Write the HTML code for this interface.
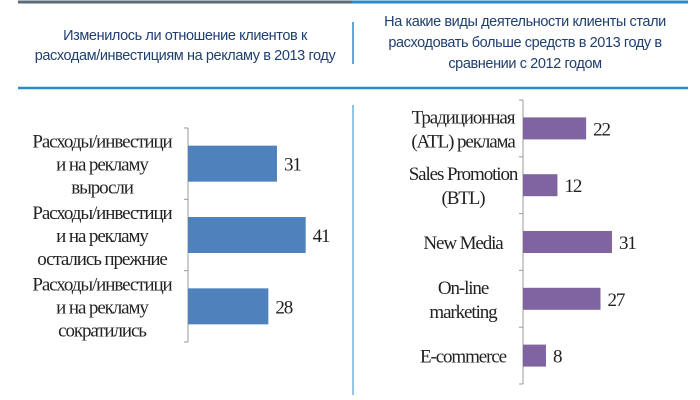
<!DOCTYPE html>
<html><head><meta charset="utf-8"><style>
body{margin:0;width:700px;height:400px;background:#fff;overflow:hidden;font-family:"Liberation Sans",sans-serif}
svg{display:block}
.t{font-family:"Liberation Sans",sans-serif;font-size:14.5px;fill:#1f3f6f;letter-spacing:-0.4px}
.l{font-family:"Liberation Serif",serif;font-size:19px;fill:#222;letter-spacing:-1.1px}
</style></head><body>
<svg width="700" height="400">
<line x1="18" y1="2" x2="352" y2="2" stroke="#5a6b7a" stroke-width="3"/>
<line x1="352" y1="2" x2="688" y2="2" stroke="#2e8bc9" stroke-width="3"/>
<line x1="18" y1="88" x2="688" y2="88" stroke="#2e8bc9" stroke-width="2.5"/>
<line x1="353" y1="22" x2="353" y2="64" stroke="#2e8bc9" stroke-width="1.5"/>
<line x1="353" y1="105" x2="353" y2="395" stroke="#2e8bc9" stroke-width="1"/>
<text class="t" text-anchor="middle" x="185" y="40">Изменилось ли отношение клиентов к</text>
<text class="t" text-anchor="middle" x="185" y="60">расходам/инвестициям на рекламу в 2013 году</text>
<text class="t" text-anchor="middle" x="525" y="26">На какие виды деятельности клиенты стали</text>
<text class="t" text-anchor="middle" x="525" y="47">расходовать больше средств в 2013 году в</text>
<text class="t" text-anchor="middle" x="525" y="68">сравнении с 2012 годом</text>
<g id="left"></g>
<g id="right"></g>
</svg>
<script>
const leftCategories=[["Расходы/инвестици","и на рекламу","выросли"],["Расходы/инвестици","и на рекламу","остались прежние"],["Расходы/инвестици","и на рекламу","сократились"]];
const leftValues=[31,41,28];
const rightCategories=[["Традиционная","(ATL) реклама"],["Sales Promotion","(BTL)"],["New Media"],["On-line","marketing"],["E-commerce"]];
const rightValues=[22,12,31,27,8];
const NS="http://www.w3.org/2000/svg";
function mk(t,a,p){const e=document.createElementNS(NS,t);for(const k in a)e.setAttribute(k,a[k]);p.appendChild(e);return e;}
function chart(g,cats,vals,x0,top,bot,barH,color,labelX,name,lh){
  const n=cats.length,band=(bot-top)/n,sx=v=>x0+v*2.87;
  const ax=mk('line',{x1:x0,y1:top,x2:x0,y2:bot,stroke:'#999'},g);
  
  
  for(let i=0;i<=n;i++){const tk=mk('line',{x1:x0-4,y1:top+i*band,x2:x0,y2:top+i*band,stroke:'#999'},g);
    
    }
  cats.forEach((c,i)=>{
    const cy=top+band*(i+0.5);
    const r=mk('rect',{x:x0,y:cy-barH/2,width:sx(vals[i])-x0,height:barH,fill:color},g);
    
    
    const v=mk('text',{x:sx(vals[i])+7,y:cy+7,class:'l'},g);v.textContent=vals[i];
    
    
    const y0=cy-(c.length-1)*lh/2+7;
    c.forEach((s,j)=>{const t=mk('text',{x:labelX,y:y0+j*lh,class:'l','text-anchor':'middle'},g);t.textContent=s;
      
      });
  });
}
chart(document.getElementById('left'),leftCategories,leftValues,188,128,342,36,'#4f81bd',102,'left',23);
chart(document.getElementById('right'),rightCategories,rightValues,523,100,384,22,'#8064a2',463,'right',24);
</script>
</body></html>
